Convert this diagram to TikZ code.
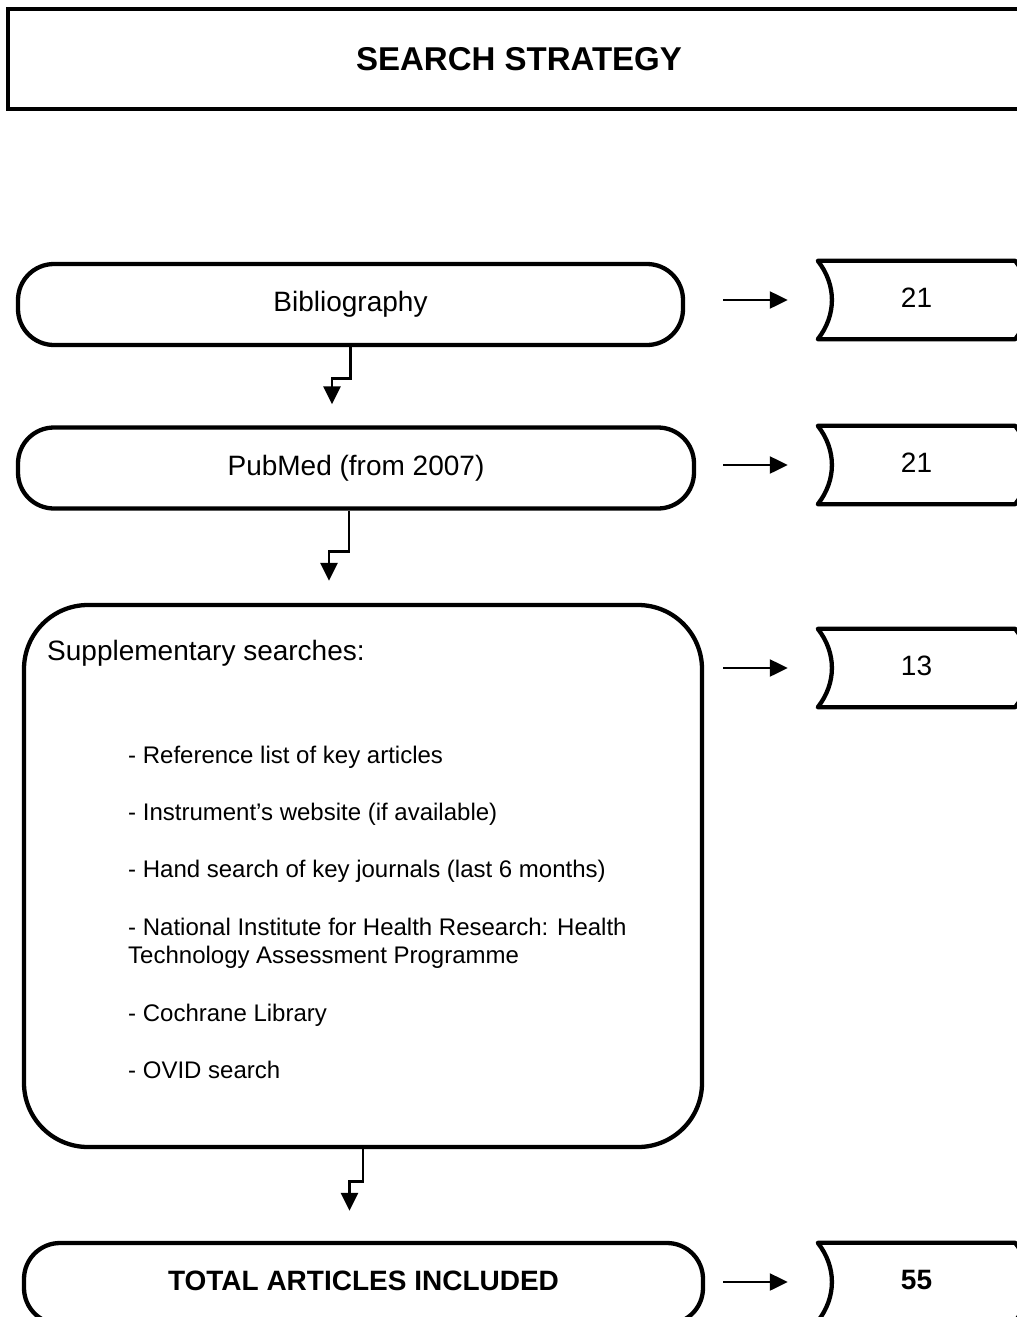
\documentclass[tikz,border=0pt]{standalone}
\usepackage{fontspec}
\setmainfont{Liberation Sans}
\usepackage{tikz}
\usetikzlibrary{arrows.meta, positioning}

\tikzset{
  pill/.style={draw, line width=4.3pt, rounded corners=36pt, minimum height=81pt,
    text height=20pt, text depth=6pt, font=\fontsize{28}{34}\selectfont},
  store/.style={minimum width=197pt, minimum height=78pt, inner sep=0pt,
    text height=20pt, text depth=6pt, font=\fontsize{28}{34}\selectfont},
  link/.style={line width=2.7pt, ->},
  flow/.style={line width=2.3pt, ->},
  item/.style={anchor=base west, inner sep=0pt, align=left, font=\fontsize{24}{28}\selectfont},
}
\newcommand{\storeframe}[1]{%
  \draw[line width=4.3pt, line join=round] (#1.north west) to[bend left=38] (#1.south west)
    -- (#1.south east) to[bend right=38] (#1.north east) -- cycle;}

\begin{document}
\begin{tikzpicture}[x=1pt, y=-1pt, >={Triangle[length=18pt, width=17pt]}]
    \useasboundingbox (0,0) rectangle (1017,1317);

    % 1. Title box
    \node[draw, line width=4.3pt, minimum width=1022pt, minimum height=100pt,
        font=\fontsize{33}{40}\selectfont\bfseries] (title) at (519,59) {SEARCH STRATEGY};

    % 2. Bibliography
    \node[pill, minimum width=665pt] (bib) at (350.5,304.5) {Bibliography};
    \node[store] (n1) at (916.5,300) {21};
    \storeframe{n1}
    \draw[flow, shorten <=38pt, shorten >=30pt] (bib.east |- n1.west) -- (n1.west);

    % 3. PubMed
    \node[pill, minimum width=676pt] (pub) at (356,468) {PubMed (from 2007)};
    \node[store] (n2) at (916.5,465) {21};
    \storeframe{n2}
    \draw[flow, shorten <=27pt, shorten >=30pt] (pub.east |- n2.west) -- (n2.west);
    \draw[link, shorten >=21pt] (bib.south) -- ++(0,31) -| ([xshift=-24pt]pub.north);

    % 4. Supplementary searches
    \node[draw, line width=4.3pt, rounded corners=64pt, minimum width=678pt,
        minimum height=542pt] (supp) at (363,876) {};
    \node[anchor=base west, inner sep=0pt, font=\fontsize{28}{34}\selectfont]
        (supphead) at (47,660) {Supplementary searches:};
    \node[item] (it1) at (128,763) {- Reference list of key articles};
    \node[item] (it2) at (128,820) {- Instrument’s website (if available)};
    \node[item] (it3) at (128,877) {- Hand search of key journals (last 6 months)};
    \node[item] (it4) at (128,963) {- National Institute for Health Research: Health\\Technology Assessment Programme};
    \node[item] (it5) at (128,1021) {- Cochrane Library};
    \node[item] (it6) at (128,1078) {- OVID search};
    \node[store] (n3) at (916.5,668) {13};
    \storeframe{n3}
    \draw[flow, shorten <=19pt, shorten >=30pt] (supp.east |- n3.west) -- (n3.west);
    \draw[link, shorten >=22pt] ([xshift=-7pt]pub.south) -- ++(0,41) -| ([xshift=-34pt]supp.north);

    % 5. Total
    \node[pill, minimum width=679pt, font=\fontsize{28}{34}\selectfont\bfseries]
        (tot) at (363.5,1283.5) {TOTAL ARTICLES INCLUDED};
    \node[store, font=\fontsize{28}{34}\selectfont\bfseries] (n4) at (916.5,1282) {55};
    \storeframe{n4}
    \draw[flow, shorten <=18pt, shorten >=30pt] (tot.east |- n4.west) -- (n4.west);
    \draw[link, shorten >=30pt] (supp.south) -- ++(0,32) -| ([xshift=-14pt]tot.north);

\end{tikzpicture}
\end{document}
